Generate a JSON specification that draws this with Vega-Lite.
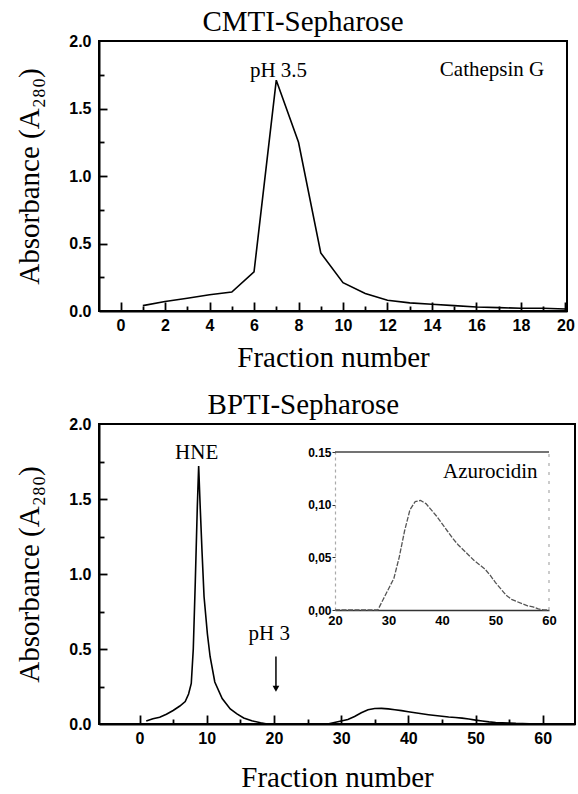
{
  "$schema": "https://vega.github.io/schema/vega-lite/v6.json",
  "background": "white",
  "padding": {"left": 14, "top": 7, "right": 4, "bottom": 4},
  "bounds": "flush",
  "spacing": 113,
  "config": {
    "view": {"stroke": "black", "strokeWidth": 2},
    "font": "Liberation Serif",
    "axis": {"grid": false, "domainColor": "black", "domainWidth": 2, "tickColor": "black", "tickWidth": 1.8, "labelFont": "Liberation Sans", "labelFontWeight": "bold", "labelFontSize": 16, "labelColor": "black", "titleFont": "Liberation Serif", "titleFontWeight": "normal", "titleFontSize": 29, "titleColor": "black", "labelFlush": false, "labelOverlap": false},
    "title": {"font": "Liberation Serif", "fontSize": 29, "fontWeight": "normal", "color": "black", "anchor": "middle", "frame": "bounds", "offset": -4, "dx": 8},
    "text": {"font": "Liberation Serif", "fontSize": 21, "color": "black"}
  },
  "datasets": {
    "cmti": [
      {"fraction": 1, "absorbance": 0.04}, {"fraction": 2, "absorbance": 0.07}, {"fraction": 3, "absorbance": 0.095}, {"fraction": 4, "absorbance": 0.12}, {"fraction": 5, "absorbance": 0.14}, {"fraction": 6, "absorbance": 0.29}, {"fraction": 7, "absorbance": 1.71}, {"fraction": 8, "absorbance": 1.25}, {"fraction": 9, "absorbance": 0.43}, {"fraction": 10, "absorbance": 0.21}, {"fraction": 11, "absorbance": 0.13}, {"fraction": 12, "absorbance": 0.08}, {"fraction": 13, "absorbance": 0.06}, {"fraction": 14, "absorbance": 0.05}, {"fraction": 15, "absorbance": 0.04}, {"fraction": 16, "absorbance": 0.03}, {"fraction": 17, "absorbance": 0.025}, {"fraction": 18, "absorbance": 0.02}, {"fraction": 19, "absorbance": 0.02}, {"fraction": 20, "absorbance": 0.015}
    ],
    "bpti": [
      {"fraction": 1, "absorbance": 0.02}, {"fraction": 2, "absorbance": 0.035}, {"fraction": 3, "absorbance": 0.045}, {"fraction": 4, "absorbance": 0.065}, {"fraction": 5, "absorbance": 0.09}, {"fraction": 6, "absorbance": 0.12}, {"fraction": 6.8, "absorbance": 0.15}, {"fraction": 7.3, "absorbance": 0.2}, {"fraction": 7.7, "absorbance": 0.27}, {"fraction": 8.0, "absorbance": 0.5}, {"fraction": 8.3, "absorbance": 0.95}, {"fraction": 8.6, "absorbance": 1.45}, {"fraction": 8.8, "absorbance": 1.72}, {"fraction": 9.0, "absorbance": 1.48}, {"fraction": 9.3, "absorbance": 1.15}, {"fraction": 9.6, "absorbance": 0.85}, {"fraction": 10.1, "absorbance": 0.6}, {"fraction": 10.5, "absorbance": 0.45}, {"fraction": 11.2, "absorbance": 0.28}, {"fraction": 12.3, "absorbance": 0.17}, {"fraction": 13.5, "absorbance": 0.1}, {"fraction": 14.5, "absorbance": 0.067}, {"fraction": 15.5, "absorbance": 0.04}, {"fraction": 16.7, "absorbance": 0.022}, {"fraction": 18, "absorbance": 0.008}, {"fraction": 19, "absorbance": 0}, {"fraction": 20, "absorbance": 0}, {"fraction": 22, "absorbance": 0}, {"fraction": 24, "absorbance": 0}, {"fraction": 26, "absorbance": 0}, {"fraction": 28, "absorbance": 0}, {"fraction": 29, "absorbance": 0.01}, {"fraction": 30, "absorbance": 0.02}, {"fraction": 31, "absorbance": 0.03}, {"fraction": 32, "absorbance": 0.05}, {"fraction": 33, "absorbance": 0.075}, {"fraction": 34, "absorbance": 0.095}, {"fraction": 35, "absorbance": 0.103}, {"fraction": 36, "absorbance": 0.104}, {"fraction": 37, "absorbance": 0.101}, {"fraction": 38, "absorbance": 0.095}, {"fraction": 39, "absorbance": 0.089}, {"fraction": 40, "absorbance": 0.082}, {"fraction": 41, "absorbance": 0.075}, {"fraction": 42, "absorbance": 0.068}, {"fraction": 43, "absorbance": 0.062}, {"fraction": 44, "absorbance": 0.057}, {"fraction": 45, "absorbance": 0.052}, {"fraction": 46, "absorbance": 0.047}, {"fraction": 47, "absorbance": 0.043}, {"fraction": 48, "absorbance": 0.039}, {"fraction": 49, "absorbance": 0.033}, {"fraction": 50, "absorbance": 0.026}, {"fraction": 51, "absorbance": 0.02}, {"fraction": 52, "absorbance": 0.014}, {"fraction": 53, "absorbance": 0.01}, {"fraction": 54, "absorbance": 0.008}, {"fraction": 55, "absorbance": 0.006}, {"fraction": 56, "absorbance": 0.004}, {"fraction": 57, "absorbance": 0.003}, {"fraction": 58, "absorbance": 0.001}, {"fraction": 59, "absorbance": 0}, {"fraction": 60, "absorbance": 0}
    ]
  },
  "vconcat": [
    {
      "title": "CMTI-Sepharose",
      "width": 468,
      "height": 270,
      "layer": [
        {
          "layer": [
            {
              "data": {"name": "cmti"},
              "mark": {"type": "line", "color": "black", "strokeWidth": 1.6},
              "encoding": {
                "x": {"field": "fraction", "type": "quantitative", "scale": {"domain": [-0.97, 20.07], "nice": false, "zero": false},
                  "axis": {"orient": "bottom", "title": "Fraction number", "values": [0,2,4,6,8,10,12,14,16,18,20], "ticks": false, "labelPadding": 6, "titlePadding": 10}},
                "y": {"field": "absorbance", "type": "quantitative", "scale": {"domain": [0, 2], "nice": false},
                  "axis": {"orient": "left", "title": "Absorbance (A₂₈₀)", "values": [0,0.5,1,1.5,2], "format": ".1f", "ticks": false, "labelPadding": 8, "titlePadding": 24}}
              }
            },
            {"data": {"values": [{}]}, "mark": {"type": "text", "text": "pH 3.5"}, "encoding": {"x": {"datum": 7.1}, "y": {"datum": 1.78}}},
            {"data": {"values": [{}]}, "mark": {"type": "text", "text": "Cathepsin G"}, "encoding": {"x": {"datum": 16.7}, "y": {"datum": 1.785}}}
          ]
        },
        {
          "data": {"name": "cmti"},
          "mark": {"type": "point", "opacity": 0},
          "encoding": {
            "x": {"field": "fraction", "type": "quantitative", "scale": {"domain": [-0.97, 20.07], "nice": false, "zero": false}, "axis": {"orient": "top", "offset": -270, "title": null, "labels": false, "domain": false, "values": [0,2,4,6,8,10,12,14,16,18,20], "tickSize": 9, "tickColor": "black", "ticks": true}},
            "y": {"field": "absorbance", "type": "quantitative", "scale": {"domain": [0, 2], "nice": false}, "axis": {"orient": "right", "offset": -468, "title": null, "labels": false, "domain": false, "values": [0.5,1,1.5], "tickSize": 8, "tickColor": "black", "ticks": true}}
          }
        },
        {
          "data": {"name": "cmti"},
          "mark": {"type": "point", "opacity": 0},
          "encoding": {
            "x": {"field": "fraction", "type": "quantitative", "scale": {"domain": [-0.97, 20.07], "nice": false, "zero": false}, "axis": {"orient": "top", "offset": -270, "title": null, "labels": false, "domain": false, "values": [1,3,5,7,9,11,13,15,17,19], "tickSize": 5, "tickColor": "black", "ticks": true}},
            "y": {"field": "absorbance", "type": "quantitative", "scale": {"domain": [0, 2], "nice": false}, "axis": {"orient": "right", "offset": -468, "title": null, "labels": false, "domain": false, "values": [0.25,0.75,1.25,1.75], "tickSize": 5, "tickColor": "black", "ticks": true}}
          }
        }
      ],
      "resolve": {"scale": {"x": "independent", "y": "independent"}, "axis": {"x": "independent", "y": "independent"}}
    },
    {
      "title": "BPTI-Sepharose",
      "width": 476,
      "height": 300,
      "layer": [
        {
          "layer": [
            {
              "data": {"name": "bpti"},
              "mark": {"type": "line", "color": "black", "strokeWidth": 1.6},
              "encoding": {
                "x": {"field": "fraction", "type": "quantitative", "scale": {"domain": [-6.03, 64.8], "nice": false, "zero": false},
                  "axis": {"orient": "bottom", "title": "Fraction number", "values": [0,10,20,30,40,50,60], "ticks": false, "labelPadding": 6, "titlePadding": 17}},
                "y": {"field": "absorbance", "type": "quantitative", "scale": {"domain": [0, 2], "nice": false},
                  "axis": {"orient": "left", "title": "Absorbance (A₂₈₀)", "values": [0,0.5,1,1.5,2], "format": ".1f", "ticks": false, "labelPadding": 8, "titlePadding": 24}}
              }
            },
            {"data": {"values": [{}]}, "mark": {"type": "text", "text": "HNE"}, "encoding": {"x": {"datum": 8.5}, "y": {"datum": 1.81}}},
            {"data": {"values": [{}]}, "mark": {"type": "text", "text": "pH 3"}, "encoding": {"x": {"datum": 19.3}, "y": {"datum": 0.6}}},
            {"data": {"values": [{}]}, "mark": {"type": "text", "text": "Azurocidin"}, "encoding": {"x": {"datum": 52.2}, "y": {"datum": 1.68}}},
            {"data": {"values": [{}]}, "mark": {"type": "rule", "color": "black", "strokeWidth": 1.5}, "encoding": {"x": {"datum": 20.3}, "y": {"datum": 0.45}, "y2": {"datum": 0.25}}},
            {"data": {"values": [{}]}, "mark": {"type": "point", "shape": "triangle-down", "filled": true, "color": "black", "size": 45, "opacity": 1}, "encoding": {"x": {"datum": 20.3}, "y": {"datum": 0.235}}}
          ]
        },
        {
          "data": {"name": "bpti"},
          "mark": {"type": "point", "opacity": 0},
          "encoding": {
            "x": {"field": "fraction", "type": "quantitative", "scale": {"domain": [-6.03, 64.8], "nice": false, "zero": false}, "axis": {"orient": "top", "offset": -300, "title": null, "labels": false, "domain": false, "values": [0,10,20,30,40,50,60], "tickSize": 9, "tickColor": "black", "ticks": true}},
            "y": {"field": "absorbance", "type": "quantitative", "scale": {"domain": [0, 2], "nice": false}, "axis": {"orient": "right", "offset": -476, "title": null, "labels": false, "domain": false, "values": [0.5,1,1.5], "tickSize": 8, "tickColor": "black", "ticks": true}}
          }
        },
        {
          "data": {"name": "bpti"},
          "mark": {"type": "point", "opacity": 0},
          "encoding": {
            "x": {"field": "fraction", "type": "quantitative", "scale": {"domain": [-6.03, 64.8], "nice": false, "zero": false}, "axis": {"orient": "top", "offset": -300, "title": null, "labels": false, "domain": false, "values": [5,15,25,35,45,55], "tickSize": 5, "tickColor": "black", "ticks": true}},
            "y": {"field": "absorbance", "type": "quantitative", "scale": {"domain": [0, 2], "nice": false}, "axis": {"orient": "right", "offset": -476, "title": null, "labels": false, "domain": false, "values": [0.25,0.75,1.25,1.75], "tickSize": 5, "tickColor": "black", "ticks": true}}
          }
        },
        {
          "layer": [
            {
              "data": {"name": "bpti"},
              "transform": [{"filter": "datum.fraction >= 20"}],
              "mark": {"type": "line", "color": "#555555", "strokeWidth": 1.3, "strokeDash": [5, 1.5]},
              "encoding": {
                "x": {"field": "fraction", "type": "quantitative", "scale": {"domain": [20, 60], "range": [236, 450], "nice": false, "zero": false},
                  "axis": {"orient": "bottom", "offset": -114, "title": null, "values": [20, 30, 40, 50, 60], "ticks": false, "labelPadding": 4, "labelFontSize": 13, "domainColor": "#333333", "domainWidth": 1.5}},
                "y": {"field": "absorbance", "type": "quantitative", "scale": {"domain": [0, 0.15], "range": [186, 28], "nice": false},
                  "axis": {"orient": "left", "offset": -236, "title": null, "values": [0, 0.05, 0.1, 0.15], "labelExpr": "datum.value >= 0.149 ? '0.15' : replace(format(datum.value, '.2f'), '.', ',')", "tickSize": 3, "tickWidth": 1, "tickColor": "#333333", "ticks": true, "labelPadding": 1, "labelFontSize": 12, "domainColor": "#aaaaaa", "domainDash": [3, 3], "domainWidth": 1.2}}
              }
            },
            {"data": {"values": [{}]}, "mark": {"type": "rule", "color": "#444444", "strokeWidth": 1.3}, "encoding": {"x": {"datum": 20}, "x2": {"datum": 60}, "y": {"datum": 0.15}}},
            {"data": {"values": [{}]}, "mark": {"type": "rule", "color": "#aaaaaa", "strokeWidth": 1.2, "strokeDash": [3, 6]}, "encoding": {"x": {"datum": 60}, "y": {"datum": 0}, "y2": {"datum": 0.15}}}
          ]
        }
      ],
      "resolve": {"scale": {"x": "independent", "y": "independent"}, "axis": {"x": "independent", "y": "independent"}}
    }
  ]
}
